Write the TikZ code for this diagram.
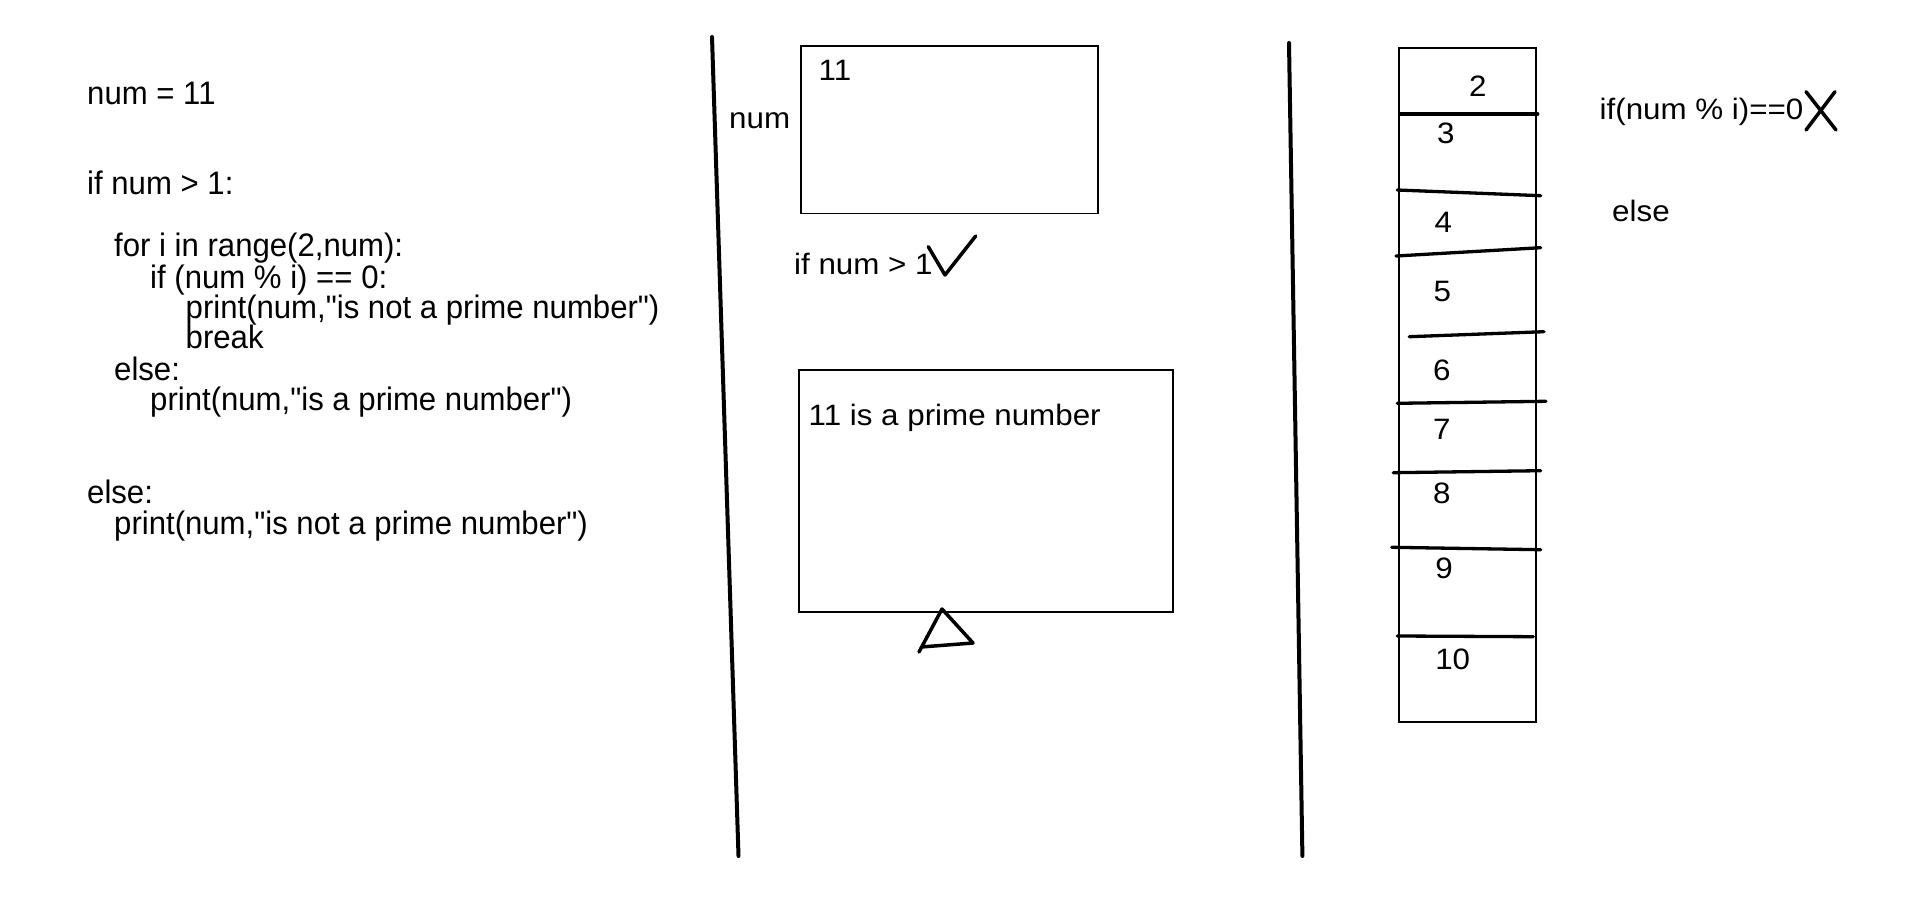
\documentclass[tikz,border=0pt]{standalone}
\usepackage{fontspec}
\setmainfont{Liberation Sans}
\newfontfamily\codefont[FakeStretch=0.958]{Liberation Sans}
\newfontfamily\handfont[FakeStretch=1.062]{Liberation Sans}
\begin{document}
\begin{tikzpicture}[x=1pt,y=-1pt,
  code/.style={anchor=base west,inner sep=0pt,font=\codefont\fontsize{32.5}{30.5}\selectfont},
  hand/.style={anchor=base west,inner sep=0pt,font=\handfont\fontsize{29.5}{34}\selectfont},
  cell/.style={anchor=base,inner sep=0pt,font=\handfont\fontsize{29.5}{34}\selectfont},
  box/.style={draw,line width=1.8pt,inner sep=0pt,anchor=north west},
  divider/.style={line width=4pt,line cap=round},
  rowline/.style={line width=3.3pt,line cap=round},
  pen/.style={line width=3.5pt,line cap=round,line join=round}]
\fill[white] (0,0) rectangle (1919,901);
\useasboundingbox (0,0) rectangle (1919,901);

% code listing
\node[code] (c1) at (87,105) {num = 11};
\node[code] (c2) at (87,195) {if num > 1:};
\node[code] (c3) at (114,257) {for i in range(2,num):};
\node[code] (c4) at (150,288) {if (num \% i) == 0:};
\node[code] (c5) at (185.5,318) {print(num,"is not a prime number")};
\node[code] (c6) at (185.5,348) {break};
\node[code] (c7) at (114,380) {else:};
\node[code] (c8) at (150,410) {print(num,"is a prime number")};
\node[code] (c9) at (87,503) {else:};
\node[code] (c10) at (114,534) {print(num,"is not a prime number")};

% dividers
\coordinate (d1t) at (712,37);
\coordinate (d1b) at (738.5,856);
\coordinate (d2t) at (1289,43);
\coordinate (d2b) at (1302.4,856);
\draw[divider] (d1t) -- (d1b);
\draw[divider] (d2t) -- (d2b);

% middle column
\node[box,minimum width=296.7pt,minimum height=167.7pt] (numbox) at (800,45) {};
\node[hand] (numval) at (818.5,80.7) {11};
\node[hand] (numlbl) at (729,128.5) {num};
\node[hand] (cond) at (794,275) {if num > 1};
\draw[pen] (928.3,246.7) -- (945,275) -- (975.7,236);
\node[box,minimum width=373.4pt,minimum height=242pt] (outbox) at (798.3,369) {};
\node[hand] (out) at (808.5,425) {11 is a prime number};
\draw[pen] (919,652) -- (942,609) -- (973,643) -- (921,647);

% right column
\node[box,minimum width=137pt,minimum height=673.7pt] (col) at (1398.3,47.3) {};
\draw[rowline] (1400,114) -- (1537.7,114);
\draw[rowline] (1397.3,190) -- (1540.7,195.7);
\draw[rowline] (1396,256) -- (1540.7,247.7);
\draw[rowline] (1409.3,336.7) -- (1544,331.7);
\draw[rowline] (1397.3,403.3) -- (1546,401.3);
\draw[rowline] (1393.3,472.7) -- (1540.7,470.7);
\draw[rowline] (1391.7,547.3) -- (1540.7,549.7);
\draw[rowline] (1397.3,636) -- (1533.3,636.7);
\node[cell] (n2) at (1477.7,96.7) {2};
\node[cell] (n3) at (1445.7,143.3) {3};
\node[cell] (n4) at (1443.3,232.7) {4};
\node[cell] (n5) at (1442.3,301.7) {5};
\node[cell] (n6) at (1441.7,380.7) {6};
\node[cell] (n7) at (1441.7,439) {7};
\node[cell] (n8) at (1441.7,503.3) {8};
\node[cell] (n9) at (1444,578.3) {9};
\node[cell] (n10) at (1452.7,669.3) {10};

\node[hand] (modtest) at (1599.5,119.3) {if(num \% i)==0};
\draw[pen] (1806,91.7) -- (1836,130);
\draw[pen] (1806,130) -- (1835,91.7);
\node[hand] (elselbl) at (1612,221.7) {else};
\end{tikzpicture}
\end{document}
